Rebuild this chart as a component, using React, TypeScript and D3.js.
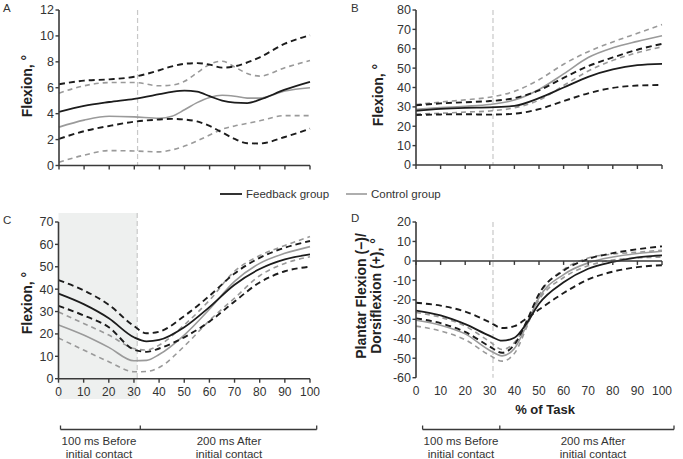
import React from 'react';
import * as d3 from 'd3';

// ---------- DATA ----------
const pctTicks = [0, 10, 20, 30, 40, 50, 60, 70, 80, 90, 100];
const contactPct = 31.3;

// Panel A
const xA = [0, 10, 20, 30, 40, 45, 50, 55, 60, 65, 70, 75, 80, 90, 100];
const aFeedMean = [4.14, 4.6, 4.9, 5.15, 5.5, 5.68, 5.78, 5.7, 5.35, 5.0, 4.85, 4.82, 5.08, 5.85, 6.45];
const aFeedUpper = [6.27, 6.55, 6.65, 6.85, 7.35, 7.65, 7.85, 7.9, 7.78, 7.55, 7.65, 7.95, 8.35, 9.4, 10.05];
const aFeedLower = [2.05, 2.65, 3.05, 3.38, 3.55, 3.6, 3.55, 3.4, 3.05, 2.55, 2.05, 1.72, 1.7, 2.2, 2.85];
const aCtrlMean = [2.96, 3.5, 3.8, 3.75, 3.65, 3.8, 4.3, 4.85, 5.25, 5.42, 5.35, 5.2, 5.2, 5.75, 6.0];
const aCtrlUpper = [5.58, 6.15, 6.4, 6.4, 6.15, 6.2, 6.5, 7.15, 7.8, 8.05, 7.6, 7.1, 6.9, 7.55, 8.1];
const aCtrlLower = [0.25, 0.8, 1.15, 1.12, 1.05, 1.2, 1.5, 1.9, 2.35, 2.8, 3.05, 3.25, 3.45, 3.85, 3.85];
const aYTicks = [0, 2, 4, 6, 8, 10, 12];

// Panel B
const xB = [0, 10, 20, 30, 40, 50, 60, 70, 80, 90, 100];
const bFeedMean = [28, 29, 29.5, 29.7, 30.5, 34.5, 40, 45.5, 49.3, 51.5, 52.2];
const bFeedUpper = [30.8, 31.8, 32.4, 33, 34.5, 38.5, 45, 51, 55.5, 59.5, 62.5];
const bFeedLower = [25.8, 26.1, 26.2, 26, 26.5, 28.8, 33, 37, 39.8, 41, 41.3];
const bCtrlMean = [28.7, 29.6, 30.3, 31.2, 33.5, 39, 47, 55.5, 60.5, 63.8, 66.7];
const bCtrlUpper = [31.2, 32.5, 33.6, 35, 38, 44, 52, 58.5, 63.5, 68, 72.5];
const bCtrlLower = [26.3, 26.7, 27.3, 27.9, 29.5, 33.5, 41, 48.5, 54, 58, 61];
const bYTicks = [0, 10, 20, 30, 40, 50, 60, 70, 80];

// Panel C
const xC = [0, 10, 20, 30, 35, 40, 50, 60, 70, 80, 90, 100];
const cFeedMean = [38, 33.3, 27, 18.5, 16.7, 17.3, 23, 32, 42, 49, 53.3, 55.5];
const cFeedUpper = [44, 39.5, 33, 23.5, 20.3, 21, 28, 37, 47, 54, 58.5, 61.5];
const cFeedLower = [32.5, 28.3, 23, 13, 12, 13.5, 18.5, 25.5, 34.5, 43, 48, 50];
const cCtrlMean = [24, 19.5, 14, 8, 8.2, 10.8, 19.5, 31, 43.5, 51.5, 56, 59];
const cCtrlUpper = [29.8, 24.7, 19.5, 13.5, 12.8, 15, 24, 35, 48, 55, 59.5, 63.5];
const cCtrlLower = [18.2, 12.8, 7.6, 3.1, 3.2, 5, 14.5, 26, 36, 46, 51.5, 54.5];
const cYTicks = [0, 10, 20, 30, 40, 50, 60, 70];

// Panel D
const xD = [0, 10, 20, 30, 35, 40, 45, 50, 60, 70, 80, 90, 100];
const dFeedMean = [-25.5, -28, -32.5, -38.5, -41, -39.5, -32, -22, -11, -4, -0.5, 1.8, 2.8];
const dFeedBandA = [-21.5, -23, -26, -31.5, -34.5, -33.5, -29.5, -25, -16.5, -9.5, -5.5, -3.2, -2.2];
const dFeedBandB = [-29.5, -32, -36.5, -44, -47.2, -43, -31, -17, -5, 1, 4, 6, 7.5];
const dCtrlMean = [-30.5, -33, -37.5, -46, -48.8, -45, -33, -19, -7, -1, 2, 3.8, 5];
const dCtrlBandA = [-26.5, -29, -33.5, -41.5, -45.5, -42, -32, -20, -8.5, -2.5, 0.5, 1.5, 2];
const dCtrlBandB = [-33.5, -36, -40.5, -48.5, -51.5, -47.5, -34, -18, -4.5, 1.5, 3.5, 4.5, 5.5];
const dYTicks = [-60, -50, -40, -30, -20, -10, 0, 10, 20];

const legendLabels = ['Feedback group', 'Control group'];
const phaseLabels = [['100 ms Before', 'initial contact'], ['200 ms After', 'initial contact']];

// ---------- STYLE ----------
const FONT = "'Liberation Sans', Arial, Helvetica, sans-serif";
const BLACK = '#1c1c1c';
const GRAY = '#9a9a9a';
const AXIS = '#3a3a3a';
const TEXT = '#333';

type Series = { values: number[]; kind: 'fm' | 'fd' | 'cm' | 'cd' };

type PanelCfg = {
  letter: string;
  letterPos: [number, number];
  xs: number[];
  series: Series[];
  x0: number; x1: number;
  yDomain: [number, number];
  yBottom: number; yTop: number;
  yTicks: number[];
  showXLabels: boolean;
  zeroAxis: boolean;
  titleLines: string[];
  titleX: number[];
  titleY: number;
  vTop: number;
  shade?: { top: number; bottom: number };
};

const styleOf = (k: Series['kind']) => {
  switch (k) {
    case 'fm': return { stroke: BLACK, strokeWidth: 1.8, dash: undefined };
    case 'fd': return { stroke: BLACK, strokeWidth: 1.9, dash: '6,4' };
    case 'cm': return { stroke: GRAY, strokeWidth: 1.6, dash: undefined };
    default: return { stroke: GRAY, strokeWidth: 1.6, dash: '5,4' };
  }
};

function Panel({ p }: { p: PanelCfg }) {
  const x = d3.scaleLinear().domain([0, 100]).range([p.x0, p.x1]);
  const y = d3.scaleLinear().domain(p.yDomain).range([p.yBottom, p.yTop]);
  const line = d3
    .line<number>()
    .x((_, i) => x(p.xs[i]))
    .y((d) => y(d))
    .curve(d3.curveMonotoneX);
  const axisY = p.zeroAxis ? y(0) : p.yBottom;
  const order: Series['kind'][] = ['cd', 'cm', 'fd', 'fm'];
  const sorted = [...p.series].sort((a, b) => order.indexOf(a.kind) - order.indexOf(b.kind));
  return (
    <g>
      {p.shade && (
        <rect
          x={x(0)}
          y={p.shade.top}
          width={x(contactPct) - x(0)}
          height={p.shade.bottom - p.shade.top}
          fill="#eef0ef"
        />
      )}
      <line
        x1={x(contactPct)}
        x2={x(contactPct)}
        y1={p.vTop}
        y2={p.yBottom}
        stroke="#c8c8c8"
        strokeWidth={1.2}
        strokeDasharray="5,3"
      />
      {sorted.map((s, i) => {
        const st = styleOf(s.kind);
        return (
          <path
            key={i}
            d={line(s.values) || ''}
            fill="none"
            stroke={st.stroke}
            strokeWidth={st.strokeWidth}
            strokeDasharray={st.dash}
          />
        );
      })}
      {/* y axis */}
      <line x1={p.x0} x2={p.x0} y1={p.yTop} y2={p.yBottom} stroke={AXIS} strokeWidth={1.6} />
      {p.yTicks.map((t) => (
        <g key={t}>
          <line x1={p.x0 - 3.5} x2={p.x0} y1={y(t)} y2={y(t)} stroke={AXIS} strokeWidth={1.4} />
          <text
            x={p.x0 - 5}
            y={y(t)}
            dy="0.35em"
            textAnchor="end"
            fontSize={12.5}
            fill={TEXT}
            fontFamily={FONT}
          >
            {t}
          </text>
        </g>
      ))}
      {/* x axis */}
      <line x1={p.x0} x2={p.x1} y1={axisY} y2={axisY} stroke={AXIS} strokeWidth={1.6} />
      {pctTicks.map((t) => (
        <g key={t}>
          <line x1={x(t)} x2={x(t)} y1={axisY} y2={axisY + 4} stroke={AXIS} strokeWidth={1.4} />
          {p.showXLabels && (
            <text
              x={x(t)}
              y={p.yBottom + 17.5}
              textAnchor="middle"
              fontSize={12}
              fill={TEXT}
              fontFamily={FONT}
            >
              {t}
            </text>
          )}
        </g>
      ))}
      {/* panel letter */}
      <text x={p.letterPos[0]} y={p.letterPos[1]} fontSize={11.5} fill={TEXT} fontFamily={FONT}>
        {p.letter}
      </text>
      {/* y title */}
      {p.titleLines.map((tl, i) => (
        <text
          key={i}
          transform={`translate(${p.titleX[i]},${p.titleY}) rotate(-90)`}
          textAnchor="middle"
          fontSize={14}
          fontWeight="bold"
          fill="#222"
          fontFamily={FONT}
        >
          {tl}
        </text>
      ))}
    </g>
  );
}

function Bracket({ x0, xm, x1, y, cx }: { x0: number; xm: number; x1: number; y: number; cx: number[] }) {
  return (
    <g>
      <line x1={x0} x2={x1} y1={y} y2={y} stroke={AXIS} strokeWidth={1.3} />
      {[x0, xm, x1].map((v, i) => (
        <line key={i} x1={v} x2={v} y1={y} y2={y - 4} stroke={AXIS} strokeWidth={1.3} />
      ))}
      {phaseLabels.map((lines, i) => (
        <text key={i} x={cx[i]} textAnchor="middle" fontSize={11.5} fill={TEXT} fontFamily={FONT}>
          <tspan x={cx[i]} y={y + 15}>{lines[0]}</tspan>
          <tspan x={cx[i]} y={y + 28}>{lines[1]}</tspan>
        </text>
      ))}
    </g>
  );
}

export default function App() {
  const panels: PanelCfg[] = [
    {
      letter: 'A', letterPos: [3, 12], xs: xA,
      series: [
        { values: aFeedMean, kind: 'fm' }, { values: aFeedUpper, kind: 'fd' }, { values: aFeedLower, kind: 'fd' },
        { values: aCtrlMean, kind: 'cm' }, { values: aCtrlUpper, kind: 'cd' }, { values: aCtrlLower, kind: 'cd' },
      ],
      x0: 59, x1: 310, yDomain: [0, 12], yBottom: 165.5, yTop: 10, yTicks: aYTicks,
      showXLabels: false, zeroAxis: false, titleLines: ['Flexion, °'], titleX: [32], titleY: 86, vTop: 10,
    },
    {
      letter: 'B', letterPos: [351, 12], xs: xB,
      series: [
        { values: bFeedMean, kind: 'fm' }, { values: bFeedUpper, kind: 'fd' }, { values: bFeedLower, kind: 'fd' },
        { values: bCtrlMean, kind: 'cm' }, { values: bCtrlUpper, kind: 'cd' }, { values: bCtrlLower, kind: 'cd' },
      ],
      x0: 416, x1: 662, yDomain: [0, 80], yBottom: 165, yTop: 10, yTicks: bYTicks,
      showXLabels: false, zeroAxis: false, titleLines: ['Flexion, °'], titleX: [383], titleY: 95, vTop: 10,
    },
    {
      letter: 'C', letterPos: [3, 224], xs: xC,
      series: [
        { values: cFeedMean, kind: 'fm' }, { values: cFeedUpper, kind: 'fd' }, { values: cFeedLower, kind: 'fd' },
        { values: cCtrlMean, kind: 'cm' }, { values: cCtrlUpper, kind: 'cd' }, { values: cCtrlLower, kind: 'cd' },
      ],
      x0: 58.5, x1: 310, yDomain: [0, 70], yBottom: 378.7, yTop: 222, yTicks: cYTicks,
      showXLabels: true, zeroAxis: false, titleLines: ['Flexion, °'], titleX: [32], titleY: 303, vTop: 213,
      shade: { top: 213, bottom: 399 },
    },
    {
      letter: 'D', letterPos: [351, 222], xs: xD,
      series: [
        { values: dFeedMean, kind: 'fm' }, { values: dFeedBandA, kind: 'fd' }, { values: dFeedBandB, kind: 'fd' },
        { values: dCtrlMean, kind: 'cm' }, { values: dCtrlBandA, kind: 'cd' }, { values: dCtrlBandB, kind: 'cd' },
      ],
      x0: 416, x1: 662, yDomain: [-60, 20], yBottom: 377.7, yTop: 222, yTicks: dYTicks,
      showXLabels: true, zeroAxis: true,
      titleLines: ['Plantar Flexion (\u2212)/', 'Dorsiflexion (+), °'], titleX: [366, 381], titleY: 296, vTop: 222,
    },
  ];

  return (
    <svg
      width={683}
      height={459}
      style={{ position: 'absolute', left: 0, top: 0, background: '#fff' }}
      fontFamily={FONT}
    >
      <rect width={683} height={459} fill="#fff" />
      {panels.map((p) => (
        <Panel key={p.letter} p={p} />
      ))}
      {/* legend */}
      <g fontFamily={FONT}>
        <line x1={220} x2={242} y1={194} y2={194} stroke={BLACK} strokeWidth={1.8} />
        <text x={246} y={198} fontSize={11.5} fill={TEXT}>{legendLabels[0]}</text>
        <line x1={346} x2={367} y1={194} y2={194} stroke={GRAY} strokeWidth={1.6} />
        <text x={371} y={198} fontSize={11.5} fill={TEXT}>{legendLabels[1]}</text>
      </g>
      <text x={545} y={414} textAnchor="middle" fontSize={13} fontWeight="bold" fill="#222" fontFamily={FONT}>
        % of Task
      </text>
      <Bracket x0={60.5} xm={140.3} x1={316.7} y={429.5} cx={[99, 229]} />
      <Bracket x0={422.6} xm={499.8} x1={674} y={429.5} cx={[461, 593]} />
    </svg>
  );
}
